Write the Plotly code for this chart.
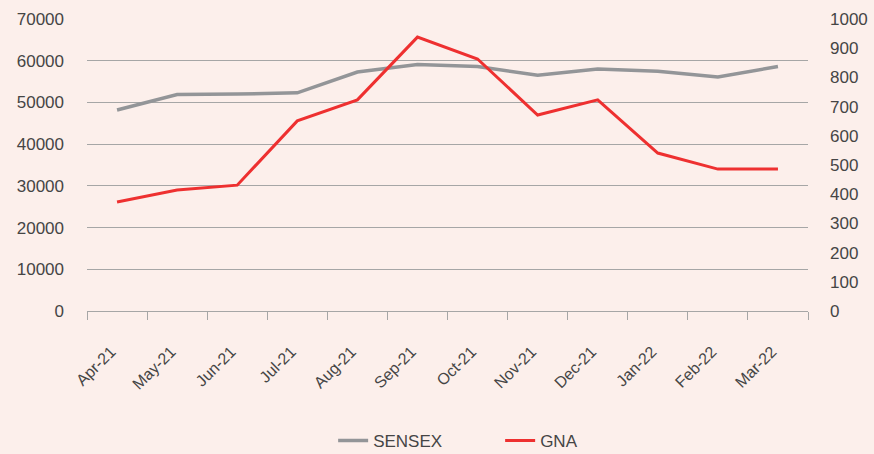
import plotly.graph_objects as go

months = ["Apr-21", "May-21", "Jun-21", "Jul-21", "Aug-21", "Sep-21",
          "Oct-21", "Nov-21", "Dec-21", "Jan-22", "Feb-22", "Mar-22"]
sensex = [48200, 51900, 52000, 52300, 57300, 59100, 58600, 56500, 58000, 57500, 56100, 58600]
gna = [373, 414, 431, 651, 723, 938, 863, 671, 723, 541, 486, 486]

left_ticks = list(range(0, 70001, 10000))
right_ticks = list(range(0, 1001, 100))

bg = "#FCEFEB"
txt = "#454545"
grid = "#A6A6A6"
font_family = "Liberation Sans, Arial, sans-serif"

fig = go.Figure()
fig.add_trace(go.Scatter(x=months, y=sensex, name="SENSEX", mode="lines",
                         line=dict(color="#939598", width=3.5)))
fig.add_trace(go.Scatter(x=months, y=gna, name="GNA", mode="lines", yaxis="y2",
                         line=dict(color="#EE3030", width=3)))

fig.update_layout(
    width=874, height=454,
    margin=dict(l=87, r=66, t=19, b=143),
    paper_bgcolor=bg, plot_bgcolor=bg,
    font=dict(family=font_family, size=17, color=txt),
    showlegend=True,
    legend=dict(orientation="h", x=0.573, xanchor="center",
                yref="container", y=0.029, yanchor="middle",
                font=dict(size=17, color=txt), entrywidth=122, entrywidthmode="pixels",
                bgcolor="rgba(0,0,0,0)"),
    xaxis=dict(type="category", range=[-0.5, 11.5], tickson="boundaries",
               ticks="outside", ticklen=8, tickcolor=grid, tickwidth=1,
               showline=True, linecolor=grid, linewidth=1, showgrid=False,
               tickangle=-45, ticklabelstandoff=24, ticklabelshift=-6, automargin=False,
               tickfont=dict(size=16, color=txt)),
    yaxis=dict(range=[0, 70000], tickvals=left_ticks, tickformat="d",
               showgrid=True, gridcolor=grid, gridwidth=1, zeroline=False,
               showline=False, ticks="", ticklabelstandoff=22, automargin=False,
               tickfont=dict(size=17, color=txt)),
    yaxis2=dict(range=[0, 1000], tickvals=right_ticks, tickformat="d",
                overlaying="y", side="right", showgrid=False, zeroline=False,
                showline=False, ticks="", ticklabelstandoff=21, automargin=False,
                tickfont=dict(size=17, color=txt)),
)

fig.write_html("out.html", config={"displayModeBar": False},
               post_script="document.body.style.margin='0';document.body.style.background='" + bg + "';")
